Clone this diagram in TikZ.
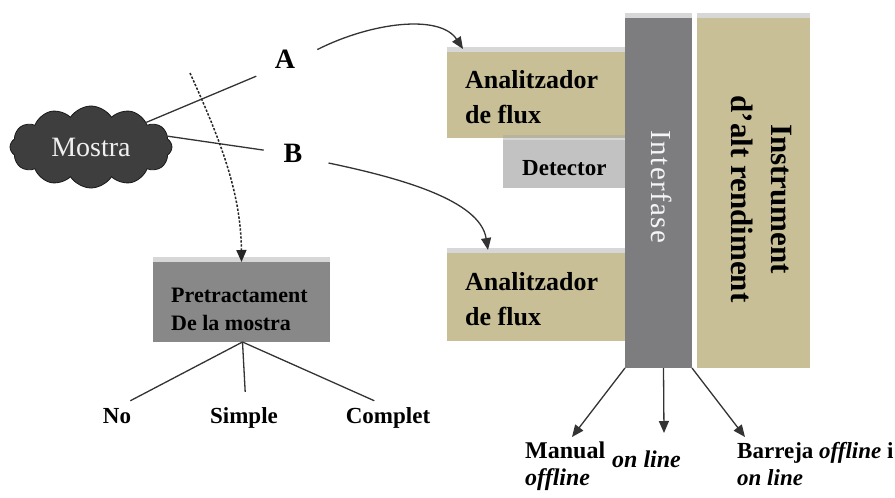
\documentclass[tikz,border=0pt]{standalone}
\usepackage{fontspec}
\setmainfont{Liberation Serif}
\usetikzlibrary{shapes.symbols,arrows.meta}
\definecolor{tanbox}{RGB}{200,191,151}
\definecolor{ifgray}{RGB}{125,125,128}
\definecolor{detgray}{RGB}{194,194,194}
\definecolor{pregray}{RGB}{136,136,136}
\definecolor{cloudgray}{RGB}{62,62,62}
\begin{document}
\begin{tikzpicture}[x=1pt,y=-1pt,
  box/.style={anchor=north west, inner sep=0pt, outer sep=0pt},
  shade/.style={fill=black!35, opacity=.45},
  txt/.style={inner sep=0pt, anchor=base west, font=\bfseries\fontsize{#1}{#1}\selectfont},
  blab/.style={inner sep=0pt, anchor=base west, align=left, font=\bfseries\fontsize{#1}{27}\selectfont},
  conn/.style={line width=1.3pt, draw=black!80},
  tip/.style={-{Triangle[length=12pt,width=10pt]}}]
\useasboundingbox (0,0) rectangle (895,498);

% boxes
\node[box, fill=tanbox, minimum width=178pt, minimum height=86pt] (an1) at (447,52) {};
\node[box, fill=detgray, minimum width=122pt, minimum height=48pt] (det) at (503,140) {};
\node[box, fill=tanbox, minimum width=178pt, minimum height=88pt] (an2) at (447,253) {};
\node[box, fill=ifgray, minimum width=67pt, minimum height=350pt] (if) at (625,18) {};
\node[box, fill=tanbox, minimum width=113pt, minimum height=350pt] (ins) at (697,18) {};
\node[box, fill=pregray, minimum width=177pt, minimum height=80pt] (pre) at (153,262) {};
\foreach \b in {an1,det,an2,if,ins,pre}
  \fill[shade] ([yshift=5pt]\b.north west) rectangle (\b.north east);

% box texts
\node[txt=26] (an1a) at (465,88) {Analitzador};
\node[txt=26] (an1b) at (465,123) {de flux};
\node[txt=23] (dett) at (522,175) {Detector};
\node[txt=26] (an2a) at (465,290) {Analitzador};
\node[txt=26] (an2b) at (465,325) {de flux};
\node[txt=22] (prea) at (171,302) {Pretractament};
\node[txt=22] (preb) at (171,330) {De la mostra};
\node[inner sep=0pt, rotate=-90, text=white!92!gray,
  font=\fontsize{29}{29}\selectfont\addfontfeatures{LetterSpace=5}] (ift) at (662,187) {Interfase};
\node[inner sep=0pt, rotate=-90, align=center,
  font=\bfseries\fontsize{31}{40}\selectfont] (inst) at (761,199) {Instrument\\d’alt rendiment};

% cloud
\node[cloud, cloud puffs=12, cloud puff arc=115, aspect=2.1, fill=cloudgray, draw=black!90,
  line width=0.8pt, minimum width=162pt, minimum height=82pt, inner sep=0pt,
  text=white!88!gray, font=\fontsize{28}{28}\selectfont] (mostra) at (91,147) {Mostra};

% A and B
\node[inner sep=0pt, font=\bfseries\fontsize{28}{28}\selectfont] (A) at (285,59) {A};
\node[inner sep=0pt, font=\bfseries\fontsize{28}{28}\selectfont] (B) at (293,153) {B};

\draw[conn, shorten >=20pt] (mostra.24) -- (A.south west);
\draw[conn, shorten >=20pt] (mostra.8) -- (B.west);

\draw[conn, tip] ([xshift=22pt]A.north east) .. controls (372,22) and (440,14) .. ([xshift=16pt,yshift=3pt]an1.north west);
\draw[conn, tip] ([shift={(26,10)}]B.east) .. controls (400,178) and (480,200) .. ([xshift=41pt,yshift=3pt]an2.north west);

% dashed
\coordinate (ds) at (190,73);
\draw[line width=1.5pt, draw=black!85, dash pattern=on 2.4pt off 1.6pt, tip]
  (ds) .. controls (218,135) and (241,190) .. (pre.north);

% pretractament branches
\node[txt=23, anchor=base] (no) at (117,423) {No};
\node[txt=23, anchor=base] (simple) at (244,423) {Simple};
\node[txt=23, anchor=base] (complet) at (388,423) {Complet};
\draw[conn, shorten >=15pt] ([xshift=1pt]pre.south) -- (no.north);
\draw[conn, shorten >=15pt] ([xshift=1pt]pre.south) -- ([xshift=2pt]simple.north);
\draw[conn, shorten >=15pt] ([xshift=1pt]pre.south) -- (complet.north);

% bottom labels (base anchor = last line's baseline)
\node[blab=24] (manual) at (525,485) {Manual\\\textit{offline}};
\node[blab=24] (online) at (612,467) {\textit{on line}};
\node[blab=23] (barreja) at (737,485) {Barreja \textit{offline} i\\\textit{on line}};

\coordinate (e1) at (572,437);
\coordinate (e2) at (664,433);
\coordinate (e3) at (745,437);
\draw[conn, tip] (if.south west) -- (e1);
\draw[conn, tip] ([xshift=5pt]if.south) -- (e2);
\draw[conn, tip] (if.south east) -- (e3);
\end{tikzpicture}
\end{document}
